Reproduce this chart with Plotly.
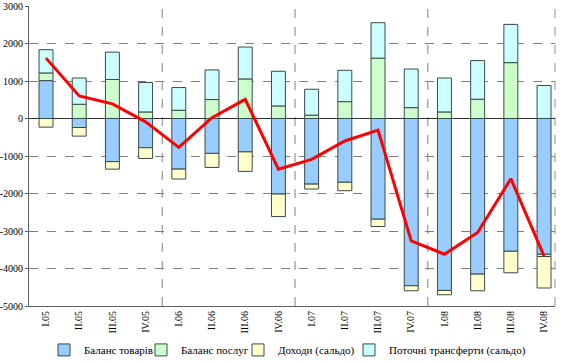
import plotly.graph_objects as go

quarters = ["I.05", "II.05", "III.05", "IV.05",
            "I.06", "II.06", "III.06", "IV.06",
            "I.07", "II.07", "III.07", "IV.07",
            "I.08", "II.08", "III.08", "IV.08"]

goods = [1010, -240, -1150, -780, -1350, -930, -890, -2015,
         -1750, -1700, -2685, -4460, -4585, -4150, -3540, -3620]
services = [205, 380, 1040, 175, 220, 505, 1055, 335,
            90, 450, 1610, 290, 175, 515, 1490, -60]
income = [-230, -230, -200, -285, -265, -375, -520, -600,
          -130, -225, -195, -135, -115, -445, -575, -840]
transfers = [620, 700, 730, 785, 605, 790, 850, 925,
             690, 835, 945, 1030, 905, 1030, 1020, 880]
current_account = [1610, 600, 390, -90, -770, 20, 510, -1350,
                   -1090, -600, -310, -3265, -3620, -3040, -1605, -3670]

series_names = ["Баланс товарів", "Баланс послуг", "Доходи (сальдо)",
                "Поточні трансферти (сальдо)"]
series_colors = ["#99CCFF", "#CCFFCC", "#FFFFCC", "#CCFFFF"]
legend_widths = [52, 52, 66, 140]
y_ticks = [3000, 2000, 1000, 0, -1000, -2000, -3000, -4000, -5000]

fig = go.Figure()
for name, vals, col, lw in zip(series_names, [goods, services, income, transfers],
                               series_colors, legend_widths):
    fig.add_trace(go.Bar(
        x=quarters, y=vals, name=name, legendwidth=lw,
        marker=dict(color=col, line=dict(color="#3a4a4a", width=1)),
    ))

fig.add_trace(go.Scatter(
    x=quarters, y=current_account, mode="lines",
    line=dict(color="#FF0000", width=3), showlegend=False,
))

font_family = "Liberation Serif"

# year separators
for xs in [3.5, 7.5, 11.5]:
    fig.add_shape(type="line", xref="x", yref="paper", x0=xs, x1=xs, y0=0, y1=1,
                  line=dict(color="#808080", width=1, dash="dash"), layer="below")
# right border dashed
fig.add_shape(type="line", xref="paper", yref="paper", x0=1, x1=1, y0=0, y1=1,
              line=dict(color="#909090", width=1, dash="dash"), layer="below")

fig.update_layout(
    width=563, height=363,
    margin=dict(l=29, r=8, t=6, b=57, autoexpand=False),
    paper_bgcolor="white", plot_bgcolor="white",
    barmode="relative", bargap=0.58,
    font=dict(family=font_family, size=11, color="black"),
    showlegend=True,
    legend=dict(orientation="h", xref="container", yref="container",
                x=44 / 563, xanchor="left", y=0.036, yanchor="middle",
                font=dict(family=font_family, size=11, color="black"),
                itemwidth=30, traceorder="normal", bgcolor="rgba(0,0,0,0)"),
    xaxis=dict(type="category", range=[-0.512, 15.33], tickangle=-90,
               showgrid=False, showline=True, linecolor="#606060", linewidth=1,
               ticks="", tickfont=dict(family=font_family, size=10, color="black"),
               automargin=False, fixedrange=True),
    yaxis=dict(range=[-5000, 3000], tickvals=y_ticks, ticktext=[str(v) for v in y_ticks],
               showgrid=True, gridcolor="#808080", griddash="dash", gridwidth=1,
               zeroline=True, zerolinecolor="#303030", zerolinewidth=1,
               showline=True, linecolor="#606060", linewidth=1,
               ticks="outside", ticklen=3, tickcolor="#606060",
               tickfont=dict(family=font_family, size=10, color="black"),
               automargin=False, fixedrange=True),
)

fig.write_html("out.html", config={"displayModeBar": False},
               post_script="document.body.style.margin='0';document.body.style.overflow='hidden';")
